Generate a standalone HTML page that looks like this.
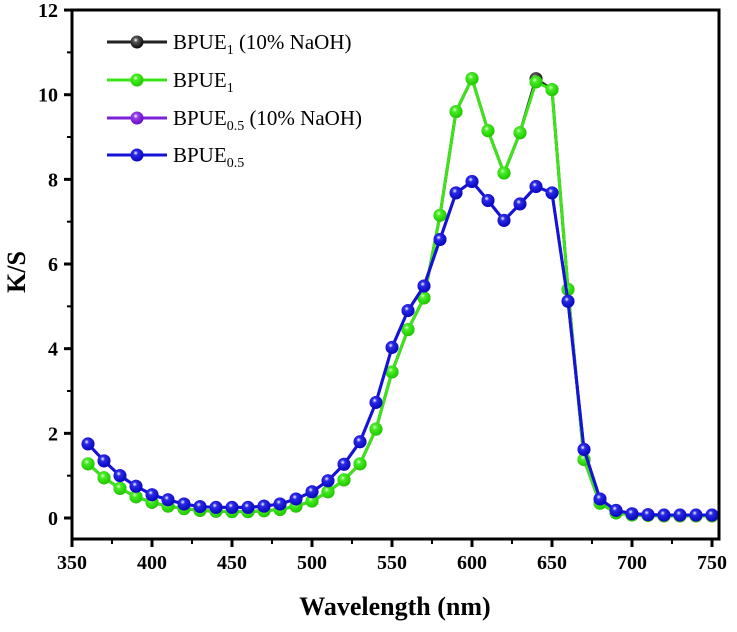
<!DOCTYPE html>
<html><head><meta charset="utf-8"><style>
body{margin:0;background:#fff}
svg text{font-family:"Liberation Serif",serif}
</style></head><body>
<svg id="chart" width="737" height="627" xmlns="http://www.w3.org/2000/svg">
<defs>
<radialGradient id="gb" cx="40%" cy="35%" r="60%"><stop offset="0" stop-color="#fff"/><stop offset="0.3" stop-color="#555"/><stop offset="1" stop-color="#111"/></radialGradient>
<radialGradient id="gg" cx="40%" cy="35%" r="60%"><stop offset="0" stop-color="#efffe0"/><stop offset="0.3" stop-color="#44ee22"/><stop offset="1" stop-color="#22cc00"/></radialGradient>
<radialGradient id="gp" cx="40%" cy="35%" r="60%"><stop offset="0" stop-color="#fff"/><stop offset="0.3" stop-color="#9a3ee8"/><stop offset="1" stop-color="#6a10c8"/></radialGradient>
<radialGradient id="gu" cx="40%" cy="35%" r="60%"><stop offset="0" stop-color="#fff"/><stop offset="0.3" stop-color="#2a2ae8"/><stop offset="1" stop-color="#0a0ac0"/></radialGradient>
</defs>
<g id="plot"></g>
<rect x="72" y="10" width="647" height="529" fill="none" stroke="#000" stroke-width="3"/>
<g id="axes"></g>
<g id="legend"></g>
<text x="395" y="615" text-anchor="middle" font-size="26" font-weight="bold">Wavelength (nm)</text>
<text transform="translate(25,272) rotate(-90)" text-anchor="middle" font-size="26" font-weight="bold">K/S</text>
</svg>
<script>
const wavelengths=[360,370,380,390,400,410,420,430,440,450,460,470,480,490,500,510,520,530,540,550,560,570,580,590,600,610,620,630,640,650,660,670,680,690,700,710,720,730,740,750];
const bpue1Naoh=[1.28,0.95,0.7,0.5,0.37,0.28,0.22,0.18,0.16,0.15,0.15,0.17,0.2,0.28,0.4,0.62,0.9,1.28,2.1,3.45,4.45,5.2,7.15,9.6,10.38,9.15,8.15,9.1,10.38,10.12,5.4,1.38,0.35,0.12,0.07,0.06,0.05,0.05,0.05,0.05];
const bpue1=[1.28,0.95,0.7,0.5,0.37,0.28,0.22,0.18,0.16,0.15,0.15,0.17,0.2,0.28,0.4,0.62,0.9,1.28,2.1,3.45,4.45,5.2,7.15,9.6,10.38,9.15,8.15,9.1,10.3,10.12,5.4,1.38,0.35,0.12,0.07,0.06,0.05,0.05,0.05,0.05];
const bpue05Naoh=[1.75,1.35,1.0,0.75,0.55,0.43,0.33,0.27,0.25,0.25,0.25,0.28,0.33,0.45,0.62,0.88,1.27,1.8,2.73,4.03,4.9,5.48,6.58,7.68,7.95,7.5,7.03,7.42,7.83,7.68,5.12,1.62,0.45,0.18,0.1,0.08,0.07,0.07,0.07,0.07];
const bpue05=[1.75,1.35,1.0,0.75,0.55,0.43,0.33,0.27,0.25,0.25,0.25,0.28,0.33,0.45,0.62,0.88,1.27,1.8,2.73,4.03,4.9,5.48,6.58,7.68,7.95,7.5,7.03,7.42,7.83,7.68,5.12,1.62,0.45,0.18,0.1,0.08,0.07,0.07,0.07,0.07];
const xTicks=[350,400,450,500,550,600,650,700,750];
const yTicks=[0,2,4,6,8,10,12];
const seriesNames=["BPUE1 (10% NaOH)","BPUE1","BPUE0.5 (10% NaOH)","BPUE0.5"];
const NS="http://www.w3.org/2000/svg";
const X=v=>72+(v-350)*1.6;
const Y=v=>518-v*42.33;
function mk(t,a,p){const e=document.createElementNS(NS,t);for(const k in a)e.setAttribute(k,a[k]);p.appendChild(e);return e;}
const axes=document.getElementById('axes');
xTicks.forEach(t=>{
 const l=mk('line',{x1:X(t),x2:X(t),y1:539,y2:547,stroke:'#000','stroke-width':3},axes);
 
 
 const tx=mk('text',{x:X(t),y:569,'text-anchor':'middle','font-size':20,'font-weight':'bold'},axes);tx.textContent=t;
 
 
 if(t<750){const m=mk('line',{x1:X(t+25),x2:X(t+25),y1:539,y2:544,stroke:'#000','stroke-width':2},axes);
 
 }
});
yTicks.forEach(t=>{
 const l=mk('line',{x1:64,x2:72,y1:Y(t),y2:Y(t),stroke:'#000','stroke-width':3},axes);
 
 
 const tx=mk('text',{x:58,y:Y(t)+7,'text-anchor':'end','font-size':20,'font-weight':'bold'},axes);tx.textContent=t;
 
 
 if(t<12){const m=mk('line',{x1:67,x2:72,y1:Y(t+1),y2:Y(t+1),stroke:'#000','stroke-width':2},axes);
 
 }
});
const plot=document.getElementById('plot');
const series=[[bpue1Naoh,'#222','url(#gb)'],[bpue1,'#3ee41a','url(#gg)'],[bpue05Naoh,'#7a22d8','url(#gp)'],[bpue05,'#1414d8','url(#gu)']];
series.forEach((s,i)=>{
 const g=mk('g',{},plot);
 
 
 const pl=mk('polyline',{points:s[0].map((v,j)=>X(wavelengths[j])+','+Y(v)).join(' '),fill:'none',stroke:s[1],'stroke-width':3},g);
 
 
 s[0].forEach((v,j)=>{const c=mk('circle',{cx:X(wavelengths[j]),cy:Y(v),r:6.5,fill:s[2]},g);
 
 });
});
const lg=document.getElementById('legend');
const labels=[['BPUE','1',' (10% NaOH)'],['BPUE','1',''],['BPUE','0.5',' (10% NaOH)'],['BPUE','0.5','']];
const ly=[42,80,118,155];
series.forEach((s,i)=>{
 const g=mk('g',{},lg);
 
 
 mk('line',{x1:107,x2:167,y1:ly[i],y2:ly[i],stroke:s[1],'stroke-width':3},g);
 mk('circle',{cx:137,cy:ly[i],r:6.5,fill:s[2]},g);
 const t=mk('text',{x:173,y:ly[i]+7,'font-size':21},g);
 t.appendChild(document.createTextNode(labels[i][0]));
 const sub=mk('tspan',{dy:5,'font-size':14},t);sub.textContent=labels[i][1];
 const rest=mk('tspan',{dy:-5},t);rest.textContent=labels[i][2];
});
</script>
</body></html>
